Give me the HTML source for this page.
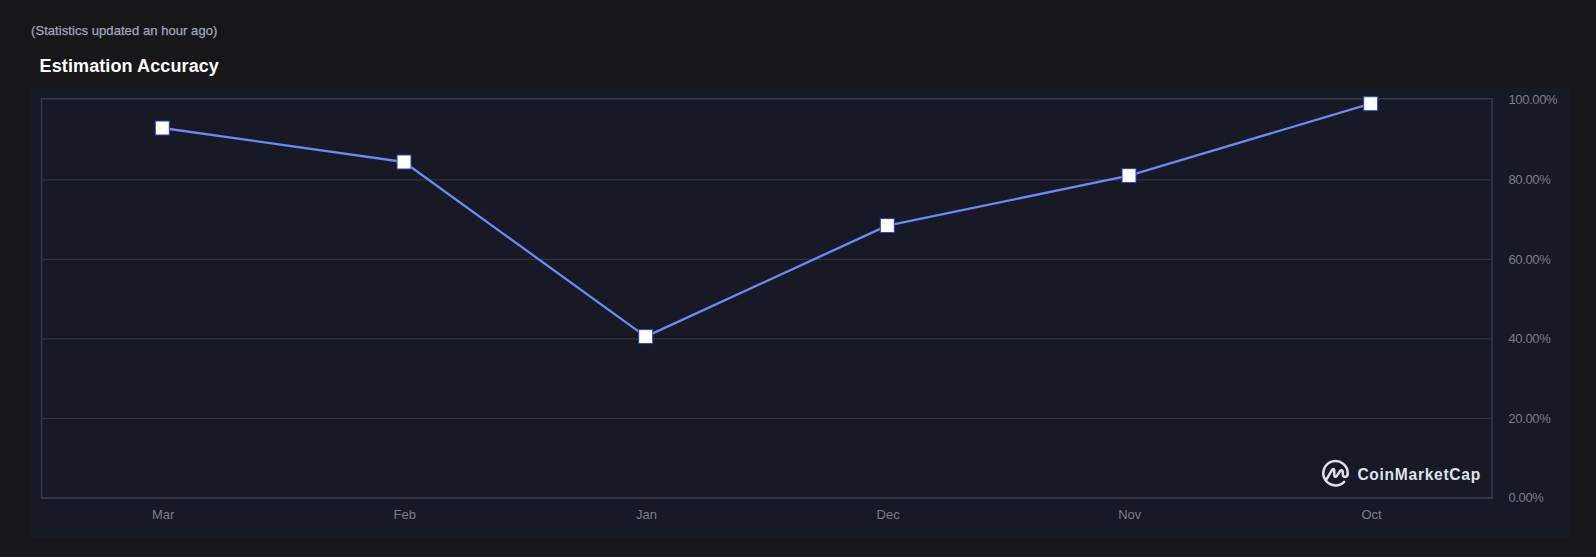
<!DOCTYPE html>
<html lang="en">
<head>
<meta charset="utf-8">
<title>Estimation Accuracy</title>
<style>
html,body{margin:0;padding:0;}
body{width:1596px;height:557px;background:#17171a;overflow:hidden;position:relative;font-family:"Liberation Sans",Arial,sans-serif;}
.updated{position:absolute;left:31px;top:23px;transform:translateY(-0.45px);-webkit-text-stroke:0.25px #a1a7bb;font-size:13px;line-height:15px;color:#a1a7bb;letter-spacing:0.066px;white-space:nowrap;}
.title{position:absolute;left:39.6px;top:55.5px;margin:0;font-size:18px;line-height:21px;font-weight:bold;color:#ffffff;letter-spacing:0.105px;white-space:nowrap;}
.panel{position:absolute;left:31px;top:88px;width:1539px;height:450px;background:#171924;border-radius:2px;}
svg{position:absolute;left:0;top:0;}
svg text{font-family:"Liberation Sans",Arial,sans-serif;}
</style>
</head>
<body>
<div class="updated">(Statistics updated an hour ago)</div>
<h2 class="title">Estimation Accuracy</h2>
<div class="panel"></div>
<svg width="1596" height="557" viewBox="0 0 1596 557">
<g>
<line x1="41.5" x2="1491.5" y1="418.4" y2="418.4" stroke="#313341" stroke-width="1.2"/>
<line x1="41.5" x2="1491.5" y1="338.9" y2="338.9" stroke="#313341" stroke-width="1.2"/>
<line x1="41.5" x2="1491.5" y1="259.3" y2="259.3" stroke="#313341" stroke-width="1.2"/>
<line x1="41.5" x2="1491.5" y1="179.8" y2="179.8" stroke="#313341" stroke-width="1.2"/>
</g>
<g stroke="#363948">
<line x1="41.6" x2="41.6" y1="98" y2="499" stroke-width="1.5"/>
<line x1="40.85" x2="1493" y1="98.75" y2="98.75" stroke-width="1.5"/>
<line x1="1492" x2="1492" y1="98" y2="499" stroke-width="2" stroke="#2f3240"/>
<line x1="40.85" x2="1493" y1="497.95" y2="497.95" stroke-width="1.9" stroke="#343745"/>
</g>
<g transform="translate(1335.5,473.2)" fill="none" stroke="#dde0eb" stroke-width="2.5" stroke-linecap="round" stroke-linejoin="round"><path d="M8.63 8.63 A12.2 12.2 0 1 1 12.2 0.3"/><path d="M-9.6 7.2 L-3.5 -3.4 C-2.9 -4.5 -1.3 -4.9 -1.3 -3.0 L-1.2 1.8 C-1.2 3.9 0.3 4.1 1.1 2.9 L4.5 -2.0 C5.3 -3.2 7.3 -3.4 7.3 -1.4 L7.3 1.4 C7.3 2.9 8.3 3.7 9.7 3.7 C11.3 3.7 12.2 2.5 12.2 0.3"/></g>
<text x="1357.4" y="479.5" font-size="15.6" font-weight="bold" fill="#dfe2ec" letter-spacing="0.70">CoinMarketCap</text>
<polyline points="162.3,128.0 404.0,162.0 645.7,336.6 887.3,225.6 1129.0,175.6 1370.7,103.7" fill="none" stroke="#6a8af6" stroke-width="2.3" stroke-linejoin="round" stroke-linecap="round"/>
<rect x="155.3" y="121.0" width="14" height="14" fill="#ffffff" stroke="#2342bd" stroke-width="1"/>
<rect x="397.0" y="155.0" width="14" height="14" fill="#ffffff" stroke="#2342bd" stroke-width="1"/>
<rect x="638.7" y="329.6" width="14" height="14" fill="#ffffff" stroke="#2342bd" stroke-width="1"/>
<rect x="880.3" y="218.6" width="14" height="14" fill="#ffffff" stroke="#2342bd" stroke-width="1"/>
<rect x="1122.0" y="168.6" width="14" height="14" fill="#ffffff" stroke="#2342bd" stroke-width="1"/>
<rect x="1363.7" y="96.7" width="14" height="14" fill="#ffffff" stroke="#2342bd" stroke-width="1"/>

<g font-size="13" fill="#7b7d87">
<text x="1508.5" y="502.2" letter-spacing="-0.38">0.00%</text>
<text x="1508.5" y="422.6" letter-spacing="-0.38">20.00%</text>
<text x="1508.5" y="343.1" letter-spacing="-0.38">40.00%</text>
<text x="1508.5" y="263.5" letter-spacing="-0.38">60.00%</text>
<text x="1508.5" y="184.0" letter-spacing="-0.38">80.00%</text>
<text x="1508.5" y="104.0" letter-spacing="-0.38">100.00%</text>
<text x="163.1" y="519.1" text-anchor="middle">Mar</text>
<text x="404.8" y="519.1" text-anchor="middle">Feb</text>
<text x="646.5" y="519.1" text-anchor="middle">Jan</text>
<text x="888.1" y="519.1" text-anchor="middle">Dec</text>
<text x="1129.8" y="519.1" text-anchor="middle">Nov</text>
<text x="1371.5" y="519.1" text-anchor="middle">Oct</text>
</g>
</svg>
</body>
</html>
